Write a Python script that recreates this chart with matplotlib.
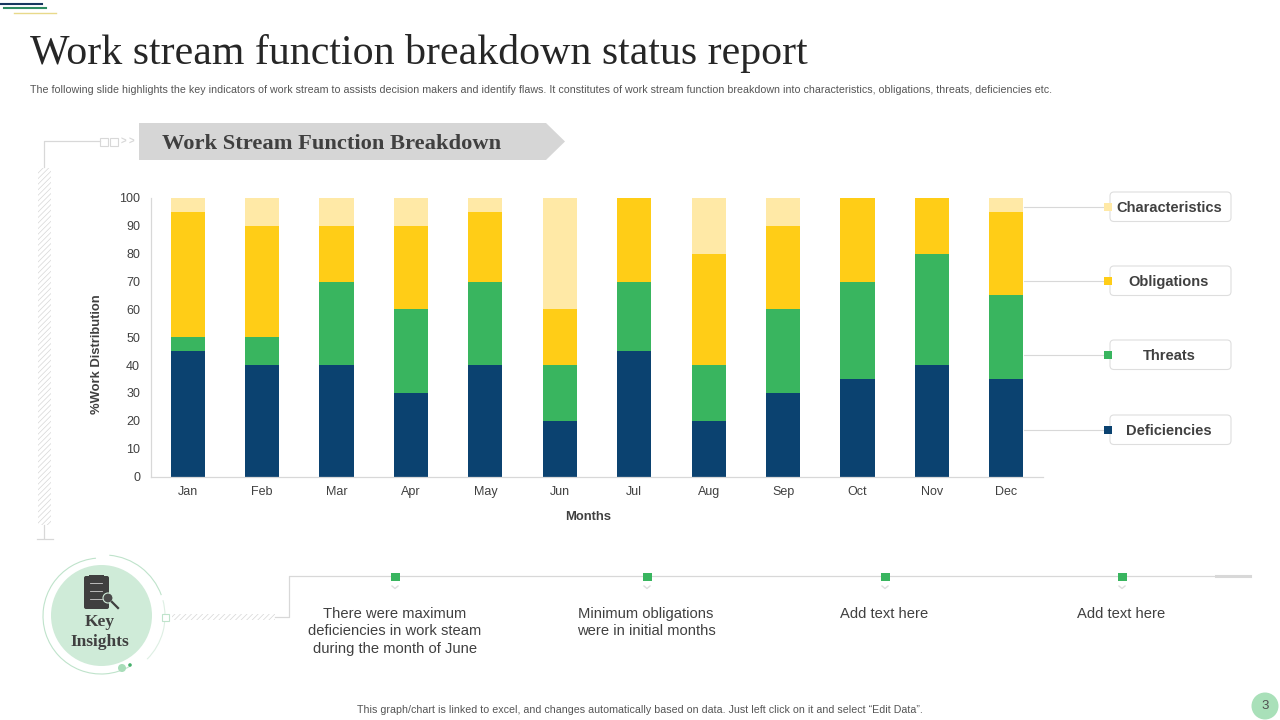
import matplotlib
matplotlib.use("Agg")
import matplotlib.pyplot as plt
from matplotlib.patches import Polygon, Rectangle, FancyBboxPatch, Circle, Arc

months = ["Jan","Feb","Mar","Apr","May","Jun","Jul","Aug","Sep","Oct","Nov","Dec"]
deficiencies = [45,40,40,30,40,20,45,20,30,35,40,35]
threats = [5,10,30,30,30,20,25,20,30,35,40,30]
obligations = [45,40,20,30,25,20,30,40,30,30,20,30]
characteristics = [5,10,10,10,5,40,0,20,10,0,0,5]
series_names = ["Deficiencies","Threats","Obligations","Characteristics"]
series_colors = ["#0B4270","#39B55F","#FFCD17","#FFE9A6"]
legend_y = [430,355,281,207]
insight_marks = [395,647,885,1122]
insight_pos = [395,646,884,1121]
insight_text = ["There were maximum\ndeficiencies in work steam\nduring the month of June",
                "Minimum obligations\nwere in initial months",
                "Add text here",
                "Add text here"]

plt.rcParams['font.family'] = ['Liberation Sans','DejaVu Sans']
plt.rcParams['hatch.linewidth'] = 0.5
SERIF = ['Liberation Serif','DejaVu Serif']
fig = plt.figure(figsize=(12.8,7.2),dpi=100,facecolor='white')

bg = fig.add_axes([0,0,1,1])
bg.set_xlim(0,1280); bg.set_ylim(720,0); bg.axis('off')

GL = "#D8D8D8"
# corner accents
bg.plot([0,42],[4,4],color="#17375E",lw=1.5)
bg.plot([4,46],[8,8],color="#2E8B62",lw=1.5)
bg.plot([14,56],[12.5,12.5],color="#E8D98A",lw=1.0)

bg.text(30,53.5,"Work stream function breakdown status report",fontsize=30.2,family=SERIF,
        color="#262626",ha='left',va='center')
bg.text(30,90,"The following slide highlights the key indicators of work stream to assists decision makers and identify flaws. It constitutes of work stream function breakdown into characteristics, obligations, threats, deficiencies etc.",
        fontsize=7.63,color="#555555",ha='left',va='center')

# banner
bg.add_patch(Polygon([(139,123),(546,123),(565,141.5),(546,160),(139,160)],closed=True,fc="#D6D6D6",ec='none'))
bg.text(162,144,"Work Stream Function Breakdown",fontsize=16.2,family=SERIF,weight='bold',color="#404040",ha='left',va='center')

# left ornament
bg.plot([100,44,44],[141,141,167],color=GL,lw=0.9)
for x in (100,110):
    bg.add_patch(Rectangle((x,138),7.5,7.5,fc='white',ec=GL,lw=0.8))
bg.text(123.5,141.5,">",fontsize=7,color=GL,ha='center',va='center',weight='bold')
bg.text(131,141.5,">",fontsize=7,color=GL,ha='center',va='center',weight='bold')
bg.add_patch(Rectangle((38,168),13,357,fc='white',ec='#D6D6D6',lw=0,hatch='//////'))
bg.plot([44,44],[525,538],color=GL,lw=0.9)
bg.plot([37,53],[539,539],color=GL,lw=0.9)

# chart
ax = fig.add_axes([150.5/1280,1-476.5/720,893/1280,278.5/720])
ax.patch.set_alpha(0)
bottom = [0]*12
for vals,name,col in zip([deficiencies,threats,obligations,characteristics],series_names,series_colors):
    ax.bar(months,vals,bottom=bottom,width=0.46,color=col,label=name,linewidth=0)
    bottom = [b+v for b,v in zip(bottom,vals)]
ax.set_xlim(-0.5,11.5); ax.set_ylim(0,100)
ax.set_yticks(range(0,101,10))
for s in ('top','right'):
    ax.spines[s].set_visible(False)
for s in ('left','bottom'):
    ax.spines[s].set_color("#D8D8D8"); ax.spines[s].set_linewidth(0.9)
ax.tick_params(axis='both',length=0,labelsize=9,labelcolor="#404040")
ax.tick_params(axis='x',pad=7)
ax.tick_params(axis='y',pad=7.5)
ax.set_xlabel("Months",fontsize=9.4,weight='bold',color="#404040",labelpad=9,x=0.49)
ax.set_ylabel("%Work Distribution",fontsize=9.4,weight='bold',color="#404040",labelpad=11.5,y=0.44)

# legend
for name,col,y in zip(series_names,series_colors,legend_y):
    bg.plot([1024,1104],[y,y],color=GL,lw=0.8,zorder=1)
    bg.add_patch(FancyBboxPatch((1112,y-13),117,25.5,boxstyle="round,pad=2,rounding_size=4",fc='white',ec="#DEDEDE",lw=0.8,zorder=2))
    bg.add_patch(Rectangle((1104,y-4),8,8,fc=col,ec='none',zorder=3))
    bg.text(1169,y+1,name,fontsize=10.5,weight='bold',color="#404040",ha='center',va='center',zorder=4)

# key insights circle
bg.add_patch(Circle((101.5,615.5),50.5,fc="#CFEBD8",ec='none'))
bg.add_patch(Arc((101,616),116,116,theta1=60,theta2=265,color="#BFE3CB",lw=0.8))
bg.add_patch(Arc((104,616),122,122,theta1=-85,theta2=-20,color="#BFE3CB",lw=0.8))
bg.add_patch(Arc((104,616),122,122,theta1=-15,theta2=45,color="#DDEFE3",lw=0.8))
bg.add_patch(Circle((122,668),4,fc="#A8DDB9",ec='none'))
bg.add_patch(Circle((130,665),1.8,fc="#47B06C",ec='none'))
bg.text(100,632,"Key\nInsights",fontsize=12.5,family=SERIF,weight='bold',color="#404040",ha='center',va='center',linespacing=1.32)
# clipboard icon
bg.add_patch(FancyBboxPatch((85,577),23,31,boxstyle="round,pad=1,rounding_size=2",fc="#3F3F3F",ec='none'))
bg.add_patch(Rectangle((89,574.5),15,4,fc="#3F3F3F",ec='none'))
for y in (583,591,599):
    bg.plot([90,102],[y,y],color="#CFCFCF",lw=0.6)
bg.add_patch(Circle((108,598),5,fc="#4A4A4A",ec="#CFEBD8",lw=0.8))
bg.plot([112,118],[602,608],color="#3F3F3F",lw=1.6)

# connector
bg.add_patch(Rectangle((162,613.5),7,7,fc='white',ec="#BFE3CB",lw=0.8))
bg.add_patch(Rectangle((172,614),103,6,fc='white',ec='#D6D6D6',lw=0,hatch='//////'))
bg.plot([275,289,289,1222],[617,617,576,576],color=GL,lw=0.9)
bg.plot([1216,1250],[575.5,575.5],color=GL,lw=2.2)

for mx,tx,txt in zip(insight_marks,insight_pos,insight_text):
    bg.add_patch(Rectangle((mx-4.5,572.5),9,8,fc="#39B55F",ec='none',zorder=3))
    bg.plot([mx-3,mx,mx+3],[586,588.5,586],color="#DDDDDD",lw=1)
    bg.text(tx,606.8,txt,fontsize=10.65,color="#404040",ha='center',va='top',linespacing=1.33)

bg.text(640,710,"This graph/chart is linked to excel, and changes automatically based on data. Just left click on it and select \u201cEdit Data\u201d.",
        fontsize=7.63,color="#555555",ha='center',va='center')
bg.add_patch(Circle((1265,706),13.5,fc="#A9E0B9",ec='none'))
bg.text(1265,706,"3",fontsize=9.5,color="#505050",ha='center',va='center')

fig.savefig("out.png",dpi=100)
